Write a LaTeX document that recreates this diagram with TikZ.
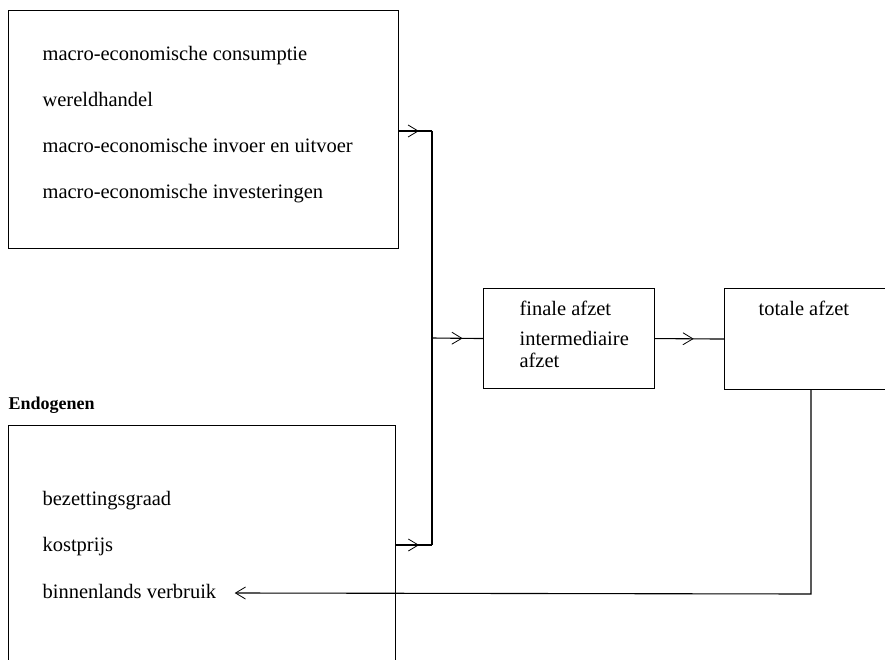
\documentclass[tikz,border=0pt]{standalone}
\usepackage{fontspec}
\setmainfont{Liberation Serif}
\usetikzlibrary{arrows.meta,decorations.markings}

\begin{document}
\begin{tikzpicture}[
            x=1pt, y=-1pt, line width=1.1pt,
            font=\fontsize{20.5}{24}\selectfont,
            box/.style={rectangle, draw=black, inner sep=0pt, anchor=north west},
            item/.style={anchor=west, inner sep=0pt, text height=14pt, text depth=4pt},
            midtip/.style={postaction={decorate}, decoration={markings, mark=at position #1 with {\arrow{Straight Barb[length=10pt,width=12pt,line width=0.8pt]}}}},
        ]
            \useasboundingbox (0,0) rectangle (885,660);
            \node[box, minimum width=390pt, minimum height=238pt](exonode) at (8,10) {};
            \node[box, minimum width=387pt, minimum height=245pt](endonode) at (8,425) {};
            \node[box, minimum width=171pt, minimum height=100pt](afzetnode) at (483,288) {};
            \node[box, minimum width=166pt, minimum height=101pt](totaalnode) at (724,288) {};
            \node[item](consumptie) at (42,56) {macro-economische consumptie};
            \node[item](handel) at (42,102) {wereldhandel};
            \node[item](inuitvoer) at (42,148) {macro-economische invoer en uitvoer};
            \node[item](investering) at (42,194) {macro-economische investeringen};
            \node[item, font=\fontsize{18}{22}\selectfont\bfseries](endotitel) at (8,404) {Endogenen};
            \node[item](bezetting) at (42,500) {bezettingsgraad};
            \node[item](kostprijs) at (42,546) {kostprijs};
            \node[item](verbruik) at (42,593) {binnenlands verbruik};
            \node[item](finale) at (519,310) {finale afzet};
            \node[item, align=left, anchor=north west, text height=, text depth=](intermediair) at (519,331) {intermediaire\\[-2pt]afzet};
            \node[item](totaal) at (758,310) {totale afzet};
            \coordinate (bustop) at (432,131);
            \coordinate (busmid) at (432,338);
            \coordinate (busbot) at (432,545);
            \coordinate (terug) at (811,594);
            \draw (bustop) -- (busbot);
            \draw[midtip=0.6] (exonode.east |- bustop) -- (bustop);
            \draw[midtip=0.6] (busmid) -- (afzetnode.west);
            \draw[midtip=0.56] (afzetnode.east) -- (totaalnode.west);
            \draw[midtip=0.64] (endonode.east |- busbot) -- (busbot);
            \draw[-{Straight Barb[length=10pt,width=12pt,line width=0.8pt]}] (totaalnode.south -| terug) -- (terug) -- ([xshift=18pt]verbruik.east);
        \end{tikzpicture}
\end{document}
